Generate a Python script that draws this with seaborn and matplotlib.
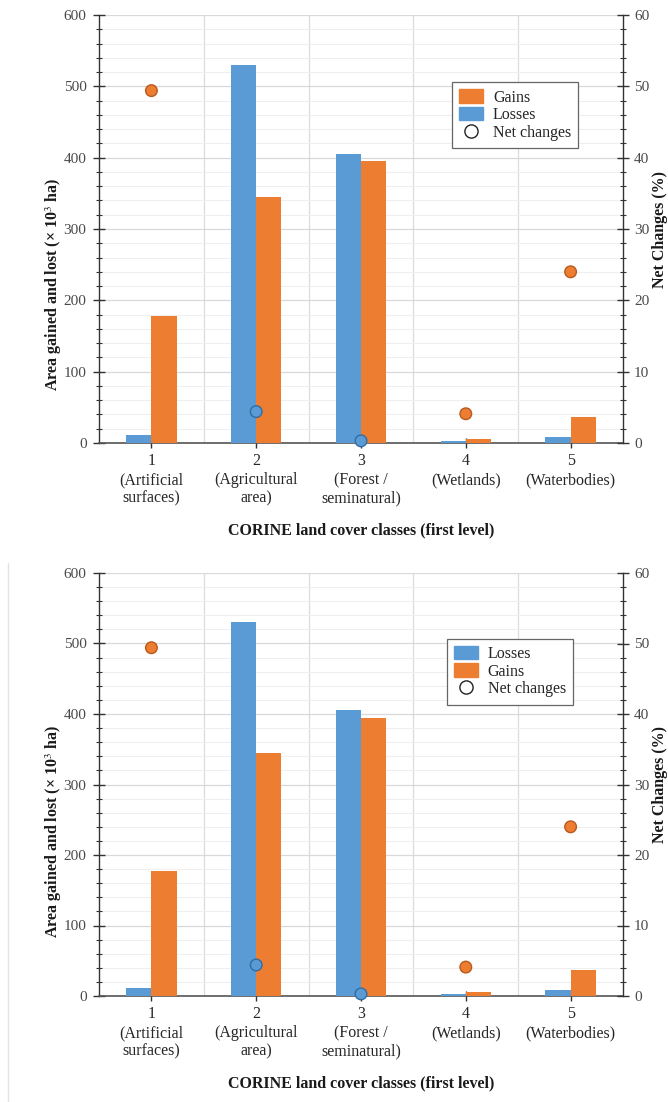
import numpy as np
import pandas as pd
import matplotlib
matplotlib.use("Agg")
import matplotlib.pyplot as plt
import seaborn as sns
from matplotlib.patches import Patch
from matplotlib.lines import Line2D
from matplotlib.ticker import MultipleLocator

# ---- data ----
categories = ["1\n(Artificial\nsurfaces)", "2\n(Agricultural\narea)", "3\n(Forest /\nseminatural)",
              "4\n(Wetlands)", "5\n(Waterbodies)"]
losses = [11, 530, 405, 3, 8]
gains = [178, 345, 395, 5, 37]
net_changes = [49.4, 4.4, 0.3, 4.1, 24.0]

BLUE = "#5B9BD5"
ORANGE = "#ED7D31"
BLUE_EDGE = "#2E6DA4"
ORANGE_EDGE = "#B85A1E"

sns.set_theme(style="white")
plt.rcParams["font.family"] = ["Liberation Serif", "DejaVu Serif"]
plt.rcParams["mathtext.fontset"] = "stix"

df = pd.DataFrame({
    "cat": categories * 2,
    "value": losses + gains,
    "type": ["Losses"] * len(categories) + ["Gains"] * len(categories),
})
net_df = pd.DataFrame({
    "pos": np.arange(len(categories)),
    "net": net_changes,
    "sign": ["Gain" if g >= l else "Loss" for g, l in zip(gains, losses)],
})

fig = plt.figure(figsize=(6.68, 11.02), dpi=100)
W, H = 668, 1102
panels = [
    dict(top=15, bottom=443, legend_order=["Gains", "Losses", "Net changes"], legend_xy=(0.674, 0.843),
         ylabel_y=0.37),
    dict(top=573, bottom=996, legend_order=["Losses", "Gains", "Net changes"], legend_xy=(0.664, 0.845),
         ylabel_y=0.39),
]
left_px, right_px = 99, 623

handles_map = {
    "Gains": Patch(facecolor=ORANGE, edgecolor=ORANGE),
    "Losses": Patch(facecolor=BLUE, edgecolor=BLUE),
    "Net changes": Line2D([], [], marker="o", linestyle="none", markersize=9.5,
                          markerfacecolor="white", markeredgecolor="#222222", markeredgewidth=1.0),
}

for p in panels:
    ax = fig.add_axes([left_px / W, 1 - p["bottom"] / H, (right_px - left_px) / W,
                       (p["bottom"] - p["top"]) / H])
    sns.barplot(data=df, x="cat", y="value", hue="type", hue_order=["Losses", "Gains"],
                palette={"Losses": BLUE, "Gains": ORANGE}, width=0.48, saturation=1,
                ax=ax, legend=False, zorder=3, linewidth=0)
    ax.set_xlim(-0.5, len(categories) - 0.5)
    ax.set_ylim(0, 600)
    ax.yaxis.set_major_locator(MultipleLocator(100))
    ax.yaxis.set_minor_locator(MultipleLocator(20))
    ax.grid(which="major", axis="y", color="#d9d9d9", linewidth=0.9, zorder=0)
    ax.grid(which="minor", axis="y", color="#efefef", linewidth=0.8, zorder=0)
    for b in np.arange(0.5, len(categories) - 0.5, 1):
        ax.axvline(b, color="#dcdcdc", linewidth=0.9, zorder=0)
    ax.set_axisbelow(True)
    for s in ["top", "right"]:
        ax.spines[s].set_visible(False)
    ax.spines["left"].set_color("#333333")
    ax.spines["bottom"].set_color("#555555")
    ax.spines["left"].set_linewidth(1.0)
    ax.spines["bottom"].set_linewidth(1.2)
    ax.tick_params(axis="y", which="major", direction="inout", length=8, width=1.0, color="#333333",
                   labelsize=11, labelcolor="#4a4a4a", left=True, pad=5)
    ax.tick_params(axis="y", which="minor", direction="inout", length=4, width=0.8, color="#333333", left=True)
    ax.tick_params(axis="x", which="major", direction="inout", length=7, width=1.0, color="#333333",
                   labelsize=11.5, labelcolor="#262626", bottom=True, pad=4)
    for t in ax.get_xticklabels():
        t.set_linespacing(1.22)
    ax.set_xlabel("CORINE land cover classes (first level)", fontsize=11.5, fontweight="bold",
                  color="#1a1a1a", labelpad=11)
    ax.set_ylabel("Area gained and lost (× 10$^3$ ha)", fontsize=11.5, fontweight="bold",
                  color="#1a1a1a")
    ax.yaxis.set_label_coords(-0.066, p["ylabel_y"])

    ax2 = ax.twinx()
    sns.scatterplot(data=net_df, x="pos", y="net", hue="sign",
                    palette={"Gain": ORANGE, "Loss": BLUE}, s=70, ax=ax2, legend=False,
                    edgecolor=[ORANGE_EDGE if s == "Gain" else BLUE_EDGE for s in net_df["sign"]],
                    linewidth=1.0, zorder=5, clip_on=False)
    ax2.set_xlim(-0.5, len(categories) - 0.5)
    ax2.set_ylim(0, 60)
    ax2.yaxis.set_major_locator(MultipleLocator(10))
    ax2.yaxis.set_minor_locator(MultipleLocator(2))
    for s in ["top", "left", "bottom"]:
        ax2.spines[s].set_visible(False)
    ax2.spines["right"].set_color("#333333")
    ax2.spines["right"].set_linewidth(1.0)
    ax2.tick_params(axis="y", which="major", direction="inout", length=8, width=1.0, color="#333333",
                    labelsize=11, labelcolor="#4a4a4a", right=True, pad=4)
    ax2.tick_params(axis="y", which="minor", direction="inout", length=4, width=0.8, color="#333333", right=True)
    ax2.set_ylabel("Net Changes (%)", fontsize=11.5, fontweight="bold", color="#1a1a1a", labelpad=2)
    ax2.set_xlabel("")
    ax2.grid(False)

    order = p["legend_order"]
    leg = ax2.legend([handles_map[k] for k in order], order, loc="upper left",
                     bbox_to_anchor=p["legend_xy"], fontsize=11.5, frameon=True, fancybox=False,
                     framealpha=1, edgecolor="#666666", handlelength=1.5, handleheight=0.9,
                     handletextpad=0.6, borderpad=0.45, labelspacing=0.1, borderaxespad=0)
    leg.get_frame().set_linewidth(0.9)
    for t in leg.get_texts():
        t.set_color("#262626")

# faint frame line at the left of the lower panel
fig.add_artist(Line2D([8 / W, 8 / W], [0, 1 - 563 / H], transform=fig.transFigure,
                      color="#e3e3e3", linewidth=1.0))

fig.savefig("out.png", dpi=100, facecolor="white")
